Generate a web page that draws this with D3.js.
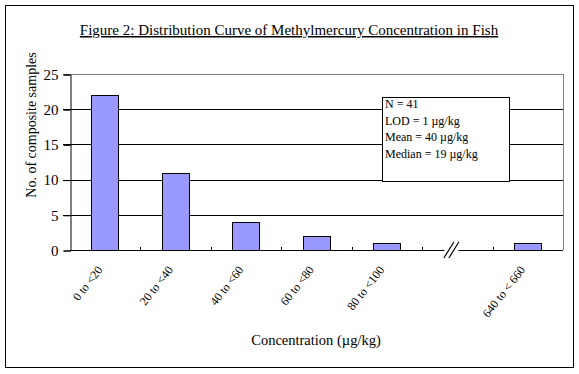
<!doctype html>
<html lang="en">
<head>
<meta charset="utf-8">
<title>Figure 2</title>
<script src="https://cdn.jsdelivr.net/npm/d3@7"></script>
<style>
body { margin: 0; background: #fff; }
svg text { font-family: "Liberation Serif", "Times New Roman", serif; fill: #000; }
</style>
</head>
<body>
<div id="chart"></div>
<script>
// chart values
var categories = ["0 to <20", "20 to <40", "40 to <60", "60 to <80", "80 to <100", "gap", "640 to < 660"];
var counts = [22, 11, 4, 2, 1, null, 1];
var yTicks = [0, 5, 10, 15, 20, 25];
var noteLines = ["N = 41", "LOD = 1 \u00b5g/kg", "Mean = 40 \u00b5g/kg", "Median = 19 \u00b5g/kg"];

var width = 579, height = 374;
// plot area edges (note: "top" is reserved on window, so use plot_*)
var plot_left = 70, plot_right = 563, plot_top = 74, plot_bottom = 250;

var svg = d3.select("#chart").append("svg")
    .attr("width", width)
    .attr("height", height);

// outer frame
svg.append("rect")
    .attr("x", 5.5).attr("y", 5.5)
    .attr("width", 568).attr("height", 362)
    .attr("fill", "none").attr("stroke", "#000");

// title, underlined
svg.append("text")
    .attr("x", 289).attr("y", 35)
    .attr("text-anchor", "middle")
    .attr("font-size", 15)
    .attr("text-decoration", "underline")
    .text("Figure 2: Distribution Curve of Methylmercury Concentration in Fish");

var x = d3.scaleBand()
    .domain(categories)
    .range([plot_left, plot_right])
    .paddingInner(0.61)
    .paddingOuter(0.305);

var y = d3.scaleLinear()
    .domain([0, 25])
    .range([plot_bottom, plot_top]);

// gridlines (top one is grey, part of the plot border)
svg.append("g").selectAll("line")
    .data(yTicks.filter(function(d) { return d > 0; }))
    .enter().append("line")
    .attr("x1", plot_left - 7).attr("x2", plot_right)
    .attr("y1", function(d) { return Math.round(y(d)) + 0.5; })
    .attr("y2", function(d) { return Math.round(y(d)) + 0.5; })
    .attr("stroke", function(d) { return d == 25 ? "#808080" : "#000"; });

// right border of plot area
svg.append("line")
    .attr("x1", plot_right + 0.5).attr("x2", plot_right + 0.5)
    .attr("y1", Math.round(y(25))).attr("y2", plot_bottom)
    .attr("stroke", "#808080");

// y axis
var yAxis = d3.axisLeft(y)
    .tickValues(yTicks)
    .tickSize(7)
    .tickPadding(5);
var gy = svg.append("g")
    .attr("transform", "translate(" + (plot_left + 0.5) + ",0.5)")
    .call(yAxis);
gy.selectAll("path, line").attr("stroke", "#000");
gy.selectAll("text").attr("font-size", 15).attr("font-family", "Liberation Serif");

// bars
svg.append("g").selectAll("rect")
    .data(categories.map(function(c, i) { return {cat: c, v: counts[i]}; }).filter(function(d) { return d.v != null; }))
    .enter().append("rect")
    .attr("x", function(d) { return Math.round(x(d.cat)) + 0.5; })
    .attr("y", function(d) { return Math.round(y(d.v)) + 0.5; })
    .attr("width", Math.round(x.bandwidth()))
    .attr("height", function(d) { return Math.round(y(0)) - Math.round(y(d.v)); })
    .attr("fill", "#9999ff")
    .attr("stroke", "#000");

// x axis line and ticks between categories
svg.append("line")
    .attr("x1", plot_left).attr("x2", plot_right)
    .attr("y1", plot_bottom + 0.5).attr("y2", plot_bottom + 0.5)
    .attr("stroke", "#000");
var step = x.step();
svg.append("g").selectAll("line")
    .data(d3.range(1, categories.length))
    .enter().append("line")
    .attr("x1", function(i) { return Math.round(plot_left + i * step) + 0.5; })
    .attr("x2", function(i) { return Math.round(plot_left + i * step) + 0.5; })
    .attr("y1", plot_bottom - 3).attr("y2", plot_bottom)
    .attr("stroke", "#000");

// axis break marks
var gapX = x("gap") + x.bandwidth() / 2 - 6;
svg.append("rect")
    .attr("x", gapX - 7).attr("y", plot_bottom - 9)
    .attr("width", 14).attr("height", 18)
    .attr("fill", "#fff");
[-2.5, 2.5].forEach(function(o) {
    svg.append("line")
        .attr("x1", gapX + o - 5).attr("y1", plot_bottom + 8)
        .attr("x2", gapX + o + 5).attr("y2", plot_bottom - 8)
        .attr("stroke", "#000").attr("stroke-width", 1.2);
});

// rotated category labels
svg.append("g").selectAll("text")
    .data(categories.filter(function(c) { return c != "gap"; }))
    .enter().append("text")
    .attr("transform", function(c) {
        return "translate(" + (x(c) + x.bandwidth() / 2 - 2) + "," + (plot_bottom + 20) + ") rotate(-52)";
    })
    .attr("text-anchor", "end")
    .attr("font-size", 12)
    .text(function(c) { return c; });

// axis titles
svg.append("text")
    .attr("transform", "translate(36,125) rotate(-90)")
    .attr("text-anchor", "middle")
    .attr("font-size", 14)
    .text("No. of composite samples");

svg.append("text")
    .attr("x", 316).attr("y", 345)
    .attr("text-anchor", "middle")
    .attr("font-size", 14.5)
    .text("Concentration (\u00b5g/kg)");

// statistics box
svg.append("rect")
    .attr("x", 382.5).attr("y", 97.5)
    .attr("width", 127).attr("height", 84)
    .attr("fill", "#fff").attr("stroke", "#000");
svg.append("g").selectAll("text")
    .data(noteLines)
    .enter().append("text")
    .attr("x", 385)
    .attr("y", function(d, i) { return 108 + i * 16.5; })
    .attr("font-size", 12)
    .text(function(d) { return d; });
</script>
</body>
</html>
